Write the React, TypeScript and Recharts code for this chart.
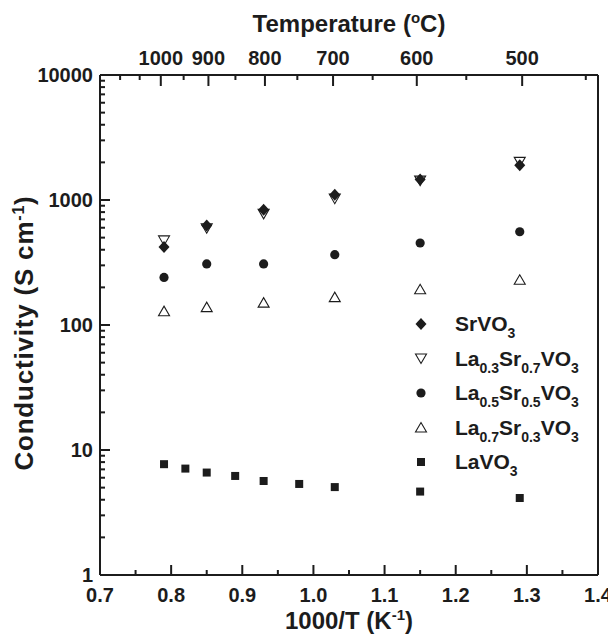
import { ScatterChart, Scatter, XAxis, YAxis, Label, ReferenceLine } from 'recharts'

const INK = '#1c1c1c'
const FONT = '"Liberation Sans", Arial, Helvetica, sans-serif'

// 1000/T (K^-1) where the samples were measured
const xMixed = [0.79, 0.85, 0.93, 1.03, 1.15, 1.29]
const xLaVO3 = [0.79, 0.82, 0.85, 0.89, 0.93, 0.98, 1.03, 1.15, 1.29]

// conductivity (S/cm)
const srVO3 = [420, 625, 835, 1100, 1460, 1900]
const la03Sr07 = [475, 595, 775, 1025, 1430, 2020]
const la05Sr05 = [240, 308, 308, 365, 453, 557]
const la07Sr03 = [129, 139, 151, 167, 193, 230]
const laVO3 = [7.7, 7.1, 6.6, 6.2, 5.65, 5.35, 5.05, 4.65, 4.13]

// axis ticks
const xMajor = [0.7, 0.8, 0.9, 1.0, 1.1, 1.2, 1.3, 1.4]
const xMinor = [0.75, 0.85, 0.95, 1.05, 1.15, 1.25, 1.35]
const yMajor = [1, 10, 100, 1000, 10000]
const yMinor = [2, 3, 4, 5, 6, 7, 8, 9, 20, 30, 40, 50, 60, 70, 80, 90, 200, 300, 400, 500, 600, 700, 800, 900, 2000, 3000, 4000, 5000, 6000, 7000, 8000, 9000]
// top axis, degrees C
const tempMajor = [1000, 900, 800, 700, 600, 500]
const tempMinor = [1100, 1050, 950, 850, 750, 650, 550, 450]

const W = 608
const H = 631
const X_DOMAIN = [0.7, 1.4]
const Y_DOMAIN = [1, 10000]
const toInvT = (t: number) => 1000 / (t + 273.15)
const toTemp = (v: number) => Math.round(1000 / v - 273.15)
const pts = (xs: number[], ys: number[]) => xs.map((x, i) => ({ x, y: ys[i] }))
const near = (list: number[], v: number) => list.some((l) => Math.abs(l - v) < 1e-6)
const frame = [{ x: 0.7, y: 1 }, { x: 1.4, y: 10000 }]
const xAll = [...xMajor, ...xMinor].sort((a, b) => a - b)
const yAll = [...yMajor, ...yMinor].sort((a, b) => a - b)
const tempAll = [...tempMajor, ...tempMinor].sort((a, b) => b - a)
const Nothing = () => <g />
const tickFont = { fontSize: 20, fontWeight: 'bold' as const, fill: INK, fontFamily: FONT }
const titleStyle = { fontSize: 24, fontWeight: 'bold' as const, fill: INK, fontFamily: FONT }

// marker shapes
const Diamond = ({ cx, cy }: any) => (
  <path d={`M${cx},${cy - 6}L${cx + 5.5},${cy}L${cx},${cy + 6}L${cx - 5.5},${cy}Z`} fill={INK} />
)
const DownTri = ({ cx, cy }: any) => (
  <path d={`M${cx - 5.5},${cy - 4.5}L${cx + 5.5},${cy - 4.5}L${cx},${cy + 5}Z`} fill="#fff" stroke={INK} strokeWidth={1.1} />
)
const UpTri = ({ cx, cy }: any) => (
  <path d={`M${cx - 5.5},${cy + 4.5}L${cx + 5.5},${cy + 4.5}L${cx},${cy - 5}Z`} fill="#fff" stroke={INK} strokeWidth={1.1} />
)
const Dot = ({ cx, cy }: any) => <circle cx={cx} cy={cy} r={4.6} fill={INK} />
const Square = ({ cx, cy }: any) => <rect x={cx - 4} y={cy - 4} width={8} height={8} fill={INK} />

// inward tick marks from mirrored helper axes (default tickSize 6 + tickMargin 2 => 8px off the axis)
const bottomMark = (p: any) => {
  const len = near(xMajor, p.payload.value) ? 10 : 5
  return <rect x={p.x - 1} y={p.y + 8 - len} width={2} height={len} fill={INK} />
}
const topMark = (p: any) => {
  const len = tempMajor.includes(toTemp(p.payload.value)) ? 11 : 5
  return <rect x={p.x - 1} y={p.y - 8} width={2} height={len} fill={INK} />
}
const leftMark = (p: any) => {
  const len = yMajor.includes(p.payload.value) ? 10 : 5
  return <rect x={p.x - 8} y={p.y - 1} width={len} height={2} fill={INK} />
}

const legendRows = [
  { shape: Diamond, parts: [['Sr', ''], ['VO', '3']] },
  { shape: DownTri, parts: [['La', '0.3'], ['Sr', '0.7'], ['VO', '3']] },
  { shape: Dot, parts: [['La', '0.5'], ['Sr', '0.5'], ['VO', '3']] },
  { shape: UpTri, parts: [['La', '0.7'], ['Sr', '0.3'], ['VO', '3']] },
  { shape: Square, parts: [['La', ''], ['VO', '3']] },
]

// titles and legend, drawn with the bottom axis label
const Annotations = () => (
  <g>
    <text x={341} y={621} textAnchor="middle" {...titleStyle}>
      1000/T (K<tspan dy={-9} fontSize={15}>-1</tspan>
      <tspan dy={9}>)</tspan>
    </text>
    <text x={341} y={24} textAnchor="middle" {...titleStyle}>
      Temperature (<tspan dy={-9} fontSize={15}>o</tspan>
      <tspan dy={9}>C)</tspan>
    </text>
    <text x={25} y={325} transform="rotate(-90, 25, 325)" textAnchor="middle" {...titleStyle} fontSize={26} letterSpacing={0.8}>
      Conductivity (S cm<tspan dy={-9} fontSize={16}>-1</tspan>
      <tspan dy={9}>)</tspan>
    </text>
    {legendRows.map((row, i) => {
      const cy = 316 + i * 34.5
      const base = cy + 7
      const Shape = row.shape
      return (
        <g key={i}>
          <Shape cx={413} cy={cy} />
          <text x={447} y={base} fontSize={21} fontWeight="bold" fill={INK} fontFamily={FONT}>
            {row.parts.flatMap(([main, sub], j) => [
              <tspan key={'m' + j} y={base}>{main}</tspan>,
              sub ? <tspan key={'s' + j} y={base + 7} fontSize={14}>{sub}</tspan> : null,
            ])}
          </text>
        </g>
      )
    })}
  </g>
)

export default function App() {
  return (
    <div style={{ position: 'relative', width: W, height: H, fontFamily: FONT }}>
      <ScatterChart width={W} height={H} margin={{ top: 27, right: 8, bottom: 14, left: 32 }}>
        <XAxis xAxisId="b" dataKey="x" type="number" domain={X_DOMAIN} ticks={xMajor} interval={0} height={50} tickSize={6} tickMargin={7} tickLine={false} tick={tickFont} tickFormatter={(v: number) => v.toFixed(1)} axisLine={{ stroke: INK, strokeWidth: 2 }}>
          <Label content={() => <Annotations />} />
        </XAxis>
        <XAxis xAxisId="bm" dataKey="x" type="number" mirror domain={X_DOMAIN} ticks={xAll} interval={0} height={1} tickLine={false} axisLine={false} tick={bottomMark} />
        <XAxis xAxisId="t" dataKey="x" type="number" orientation="top" domain={X_DOMAIN} ticks={tempMajor.map(toInvT)} interval={0} height={40} tickSize={6} tickMargin={4} tickLine={false} tick={tickFont} tickFormatter={(v: number) => String(toTemp(v))} axisLine={{ stroke: INK, strokeWidth: 2 }} />
        <XAxis xAxisId="tm" dataKey="x" type="number" orientation="top" mirror domain={X_DOMAIN} ticks={tempAll.map(toInvT)} interval={0} height={1} tickLine={false} axisLine={false} tick={topMark} />
        <YAxis yAxisId="l" dataKey="y" type="number" scale="log" domain={Y_DOMAIN} ticks={yMajor} interval={0} width={60} tickSize={6} tickMargin={1} tickLine={false} tick={tickFont} axisLine={{ stroke: INK, strokeWidth: 2 }} />
        <YAxis yAxisId="lm" dataKey="y" type="number" scale="log" mirror domain={Y_DOMAIN} ticks={yAll} interval={0} width={1} tickLine={false} axisLine={false} tick={leftMark} />
        <YAxis yAxisId="r" dataKey="y" type="number" scale="log" orientation="right" domain={Y_DOMAIN} ticks={yMajor} width={10} tickLine={false} tick={Nothing} axisLine={{ stroke: INK, strokeWidth: 2 }} />
        <ReferenceLine xAxisId="b" yAxisId="l" x={1.4} stroke={INK} strokeWidth={2} ifOverflow="visible" />
        <ReferenceLine xAxisId="b" yAxisId="l" y={10000} stroke={INK} strokeWidth={2} ifOverflow="visible" />
        <Scatter xAxisId="bm" yAxisId="lm" data={frame} shape={Nothing} isAnimationActive={false} />
        <Scatter xAxisId="tm" yAxisId="r" data={frame} shape={Nothing} isAnimationActive={false} />
        <Scatter xAxisId="t" yAxisId="r" data={frame} shape={Nothing} isAnimationActive={false} />
        <Scatter xAxisId="b" yAxisId="l" data={pts(xLaVO3, laVO3)} shape={Square} isAnimationActive={false} />
        <Scatter xAxisId="b" yAxisId="l" data={pts(xMixed, la07Sr03)} shape={UpTri} isAnimationActive={false} />
        <Scatter xAxisId="b" yAxisId="l" data={pts(xMixed, la05Sr05)} shape={Dot} isAnimationActive={false} />
        <Scatter xAxisId="b" yAxisId="l" data={pts(xMixed, la03Sr07)} shape={DownTri} isAnimationActive={false} />
        <Scatter xAxisId="b" yAxisId="l" data={pts(xMixed, srVO3)} shape={Diamond} isAnimationActive={false} />
      </ScatterChart>
    </div>
  )
}
